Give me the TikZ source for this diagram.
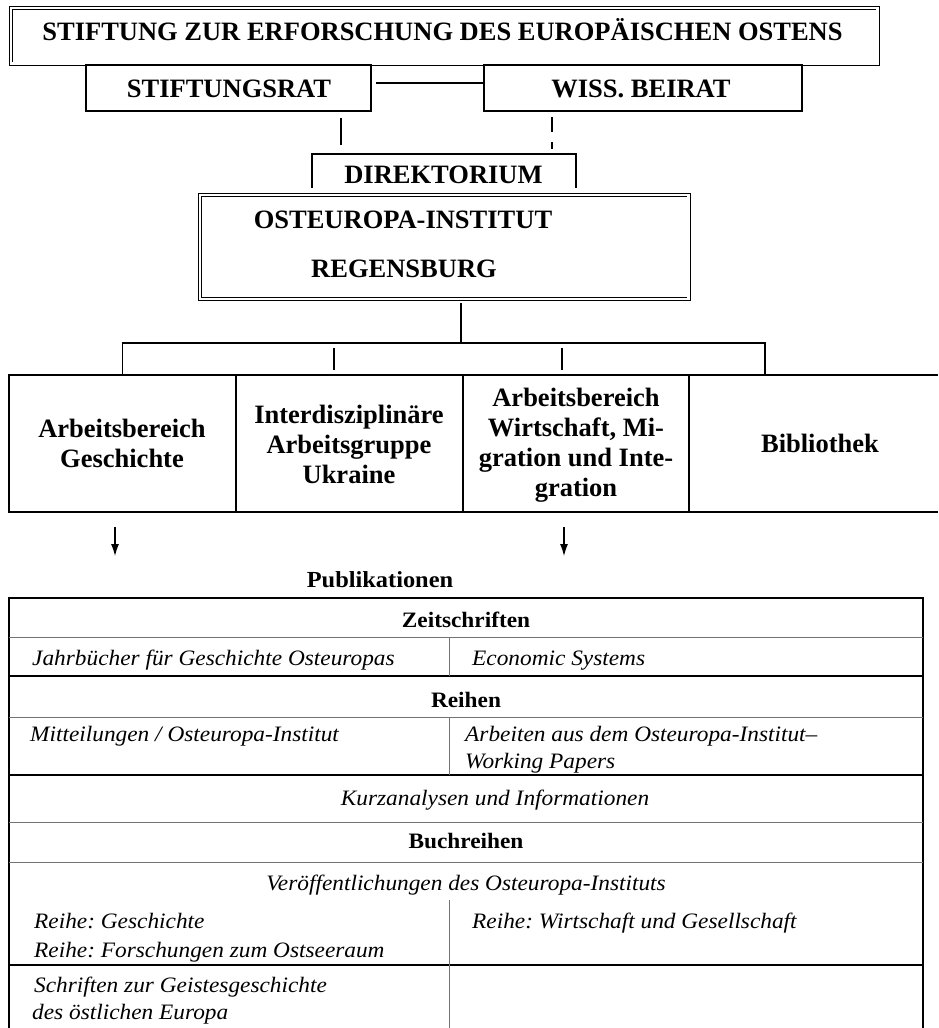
\documentclass[tikz,border=0pt]{standalone}
\usepackage{fontspec}
\setmainfont{Liberation Serif}
\newfontfamily\tabfont[FakeStretch=1.06]{Liberation Serif}
\frenchspacing
\usetikzlibrary{calc,arrows.meta,fit}
\begin{document}
\begin{tikzpicture}[x=1pt,y=-1pt,
  tb/.style={font=\fontsize{26.5pt}{30pt}\selectfont\bfseries, anchor=base, inner sep=0pt},
  hb/.style={font=\tabfont\fontsize{22pt}{26pt}\selectfont\bfseries, anchor=base, inner sep=0pt},
  pub/.style={font=\tabfont\fontsize{23pt}{27pt}\selectfont\bfseries, anchor=base, inner sep=0pt},
  itl/.style={font=\tabfont\fontsize{22pt}{28pt}\selectfont\itshape, anchor=base west, inner sep=0pt},
  itc/.style={font=\tabfont\fontsize{22pt}{28pt}\selectfont\itshape, anchor=base, inner sep=0pt},
  frame/.style={rectangle, inner sep=0pt, outer sep=0pt},
  dbl/.style={frame, draw, line width=0.9pt, double, double distance=2.2pt},
  box/.style={frame, draw, line width=1.3pt},
  conn/.style={line width=1.2pt},
  thin/.style={line width=1pt, black!55},
  tline/.style={line width=1.2pt},
  arr/.style={line width=1.1pt, -{Latex[length=12pt,width=8pt]}}
]
\useasboundingbox (0,0) rectangle (938,1028);

% top
\node[dbl, fit={(10.75,7.75) (877.5,63.5)}] (stift) {};
\node[tb] (stiftT) at (442.5,40) {STIFTUNG ZUR ERFORSCHUNG DES EUROPÄISCHEN OSTENS};

\node[box, fit={(86,65) (371,111)}] (rat) {};
\node[tb] (ratT) at (229,97) {STIFTUNGSRAT};
\node[box, fit={(484,65) (802,111)}] (beirat) {};
\node[tb] (beiratT) at (641,97) {WISS. BEIRAT};
\draw[conn] ($(rat.east)+(5,-5)$) -- ($(beirat.west)+(0,-5)$);

\coordinate (ratA) at (341,118);
\coordinate (ratB) at (341,145);
\draw[conn] (ratA) -- (ratB);
\coordinate (beiA) at (552,117);
\coordinate (beiB) at (552,149);
\draw[conn, dash pattern=on 15pt off 10pt] (beiA) -- (beiB);

\node[frame, fit={(312,154) (576,188)}] (dir) {};
\draw[line width=1.5pt] (dir.south west) -- (dir.north west) -- (dir.north east) -- (dir.south east);
\node[tb] (dirT) at (443.5,183) {DIREKTORIUM};

\node[dbl, fit={(200,195) (688.5,299)}] (oi) {};
\node[tb] (oiT1) at (403,228) {OSTEUROPA-INSTITUT};
\node[tb] (oiT2) at (404,277) {REGENSBURG};

% units
\node[box, fit={(9,375) (236,512)}] (b1) {};
\node[box, fit={(236,375) (463,512)}] (b2) {};
\node[box, fit={(463,375) (689,512)}] (b3) {};
\node[frame, fit={(689,375) (938,512)}] (b4) {};
\draw[line width=1.3pt] (b4.north west) -- (b4.north east);
\draw[line width=2pt] (b1.south west) -- (b4.south east);

\coordinate (oiDown) at (461,303);
\coordinate (barM) at (461,343);
\draw[conn] (oiDown) -- (barM);
\coordinate (b4in) at (765,375);
\draw[line width=1.3pt] (b1.north) -- (b1.north |- barM) -- (b4in |- barM) -- (b4in);
\coordinate (t2a) at (334,348); \coordinate (t2b) at (334,370);
\coordinate (t3a) at (562,348); \coordinate (t3b) at (562,370);
\draw[conn] (t2a) -- (t2b);
\draw[conn] (t3a) -- (t3b);

\node[tb] (b1a) at (122,437) {Arbeitsbereich};
\node[tb] (b1b) at (122,467) {Geschichte};
\node[tb] (b2a) at (349,423) {Interdisziplinäre};
\node[tb] (b2b) at (349,453) {Arbeitsgruppe};
\node[tb] (b2c) at (349,483) {Ukraine};
\node[tb] (b3a) at (576,406) {Arbeitsbereich};
\node[tb] (b3b) at (576,436) {Wirtschaft, Mi-};
\node[tb] (b3c) at (576,466) {gration und Inte-};
\node[tb] (b3d) at (576,496) {gration};
\node[tb] (b4a) at (820,452) {Bibliothek};

% arrows
\coordinate (a1s) at (115,527); \coordinate (a1e) at (115,556);
\coordinate (a2s) at (564,527); \coordinate (a2e) at (564,556);
\draw[arr] (a1s) -- (a1e);
\draw[arr] (a2s) -- (a2e);

\node[pub] (pubT) at (380,587) {Publikationen};

% table
\draw[line width=2pt] (9,1030) -- (9,598) -- (923,598) -- (923,1030);
\draw[thin] (9,637) -- (923,637);
\draw[line width=2pt] (9,676) -- (923,676);
\draw[thin] (9,717) -- (923,717);
\draw[tline] (9,775) -- (923,775);
\draw[thin] (9,822) -- (923,822);
\draw[thin] (9,862) -- (923,862);
\draw[tline] (9,965) -- (923,965);
\draw[thin] (449,637) -- (449,676);
\draw[thin] (449,717) -- (449,775);
\draw[thin] (449,900) -- (449,1030);

\node[hb] (zT) at (466,627) {Zeitschriften};
\node[itl] (z1) at (32,665) {Jahrbücher für Geschichte Osteuropas};
\node[itl] (z2) at (472,665) {Economic Systems};
\node[hb] (rT) at (466,707) {Reihen};
\node[itl] (r1) at (30,741) {Mitteilungen / Osteuropa-Institut};
\node[itl] (r2) at (465,741) {Arbeiten aus dem Osteuropa-Institut–};
\node[itl] (r3) at (465,768) {Working Papers};
\node[itc] (kT) at (495,805) {Kurzanalysen und Informationen};
\node[hb] (bT) at (466,848) {Buchreihen};
\node[itc] (vT) at (466,890) {Veröffentlichungen des Osteuropa-Instituts};
\node[itl] (g1) at (34,928) {Reihe: Geschichte};
\node[itl] (g2) at (34,957) {Reihe: Forschungen zum Ostseeraum};
\node[itl] (w1) at (472,928) {Reihe: Wirtschaft und Gesellschaft};
\node[itl] (s1) at (34,992) {Schriften zur Geistesgeschichte};
\node[itl] (s2) at (32,1019) {des östlichen Europa};
\end{tikzpicture}
\end{document}
